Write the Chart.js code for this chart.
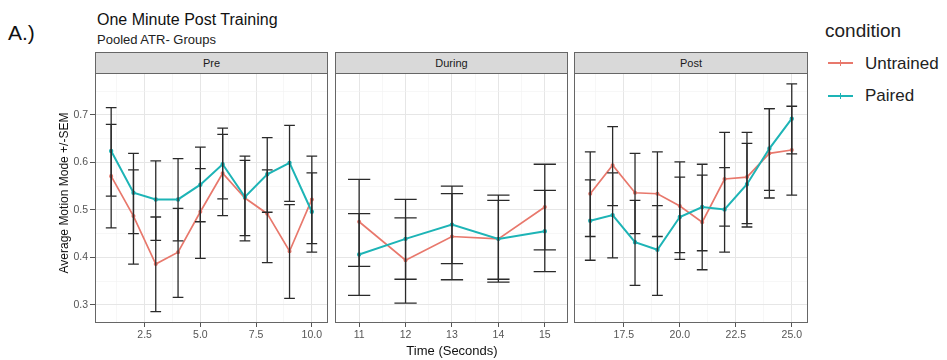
<!DOCTYPE html>
<html>
<head>
<meta charset="utf-8">
<script src="https://cdn.jsdelivr.net/npm/chart.js@4.4.0/dist/chart.umd.min.js"></script>
<style>
  body { margin: 0; width: 947px; height: 360px; background: #fff; position: relative; overflow: hidden;
         font-family: "Liberation Sans", Arial, sans-serif; }
  .txt { position: absolute; white-space: nowrap; line-height: 1; }
  .strip { position: absolute; top: 52px; height: 22px; background: #d9d9d9; border: 1px solid #666;
           box-sizing: border-box; text-align: center; font-size: 11px; line-height: 20px; color: #1a1a1a; }
  canvas { position: absolute; }
  .key { position: absolute; height: 2px; width: 25px; }
  .key i { position: absolute; left: 12px; top: -2px; width: 1px; height: 6px; background: inherit; }
</style>
</head>
<body>

<div class="txt" style="left:8px; top:22px; font-size:21px; color:#111;">A.)</div>
<div class="txt" style="left:97px; top:12px; font-size:16px; color:#111;">One Minute Post Training</div>
<div class="txt" style="left:97px; top:33px; font-size:13px; color:#222;">Pooled ATR- Groups</div>

<div class="strip" style="left:95px; width:233px;">Pre</div>
<div class="strip" style="left:335px; width:233px;">During</div>
<div class="strip" style="left:574px; width:234px;">Post</div>

<canvas id="pre" width="330" height="279" style="left:0; top:71px;"></canvas>
<canvas id="during" width="237" height="279" style="left:333px; top:71px;"></canvas>
<canvas id="post" width="238" height="279" style="left:572px; top:71px;"></canvas>

<div class="txt" style="left:352px; width:200px; text-align:center; top:344px; font-size:13px; color:#111;">Time (Seconds)</div>
<div class="txt" style="left:-36px; width:200px; text-align:center; top:187px; font-size:12px; color:#111; transform:rotate(-90deg);">Average Motion Mode +/-SEM</div>

<div class="txt" style="left:825px; top:21px; font-size:19px; color:#222;">condition</div>
<div class="key" style="left:828px; top:62px; background:#e8786c;"><i></i></div>
<div class="txt" style="left:865px; top:55px; font-size:17px; color:#222;">Untrained</div>
<div class="key" style="left:828px; top:95px; background:#1db4b6;"><i></i></div>
<div class="txt" style="left:865px; top:87px; font-size:17px; color:#222;">Paired</div>

<script>
// values (seconds 1-25)
const time = [1, 2, 3, 4, 5, 6, 7, 8, 9, 10, 11, 12, 13, 14, 15, 16, 17, 18, 19, 20, 21, 22, 23, 24, 25];

const untrainedMean = [0.571, 0.487, 0.386, 0.411, 0.496, 0.577, 0.525, 0.492, 0.413, 0.522,
  0.475, 0.394, 0.444, 0.439, 0.506,
  0.534, 0.594, 0.536, 0.534, 0.508, 0.474, 0.565, 0.569, 0.619, 0.626];
const untrainedHi = [0.680, 0.584, 0.485, 0.503, 0.587, 0.659, 0.604, 0.584, 0.511, 0.613,
  0.564, 0.483, 0.534, 0.520, 0.596,
  0.622, 0.675, 0.619, 0.622, 0.601, 0.573, 0.663, 0.663, 0.713, 0.718];
const untrainedLo = [0.462, 0.386, 0.286, 0.316, 0.398, 0.488, 0.435, 0.389, 0.314, 0.429,
  0.381, 0.304, 0.353, 0.354, 0.416,
  0.444, 0.509, 0.450, 0.444, 0.410, 0.374, 0.466, 0.471, 0.525, 0.531];

const pairedMean = [0.624, 0.536, 0.522, 0.522, 0.553, 0.596, 0.527, 0.575, 0.599, 0.496,
  0.406, 0.439, 0.469, 0.439, 0.455,
  0.477, 0.489, 0.432, 0.416, 0.485, 0.506, 0.501, 0.554, 0.629, 0.692];
const pairedHi = [0.715, 0.619, 0.603, 0.608, 0.632, 0.672, 0.613, 0.652, 0.678, 0.578,
  0.492, 0.522, 0.550, 0.531, 0.541,
  0.563, 0.578, 0.520, 0.509, 0.569, 0.596, 0.589, 0.640, 0.713, 0.765];
const pairedLo = [0.529, 0.450, 0.436, 0.435, 0.475, 0.523, 0.446, 0.495, 0.518, 0.411,
  0.320, 0.354, 0.387, 0.348, 0.370,
  0.394, 0.399, 0.341, 0.320, 0.396, 0.414, 0.411, 0.464, 0.541, 0.618];

// facets
const phaseNames = ["Pre", "During", "Post"];
const phaseStart = [1, 11, 16];
const phaseEnd = [10, 15, 25];

// tick labels
const xTicks = [[2.5, 5, 7.5, 10], [11, 12, 13, 14, 15], [17.5, 20, 22.5, 25]];
const xTickLabels = [["2.5", "5.0", "7.5", "10.0"], ["11", "12", "13", "14", "15"], ["17.5", "20.0", "22.5", "25.0"]];
const yTicks = [0.3, 0.4, 0.5, 0.6, 0.7];
const yTickLabels = ["0.3", "0.4", "0.5", "0.6", "0.7"];

const colUntrained = "#e8786c";
const colPaired = "#1db4b6";
const xLimits = [[0.275, 10.725], [10.48, 15.5], [15.275, 25.725]];
const yLimits = [0.262, 0.788];
const capHalf = 0.24;

function minorOf(major, lo, hi) {
  const step = major[1] - major[0];
  return [major[0] - step / 2].concat(major.map((v) => v + step / 2)).filter((v) => v > lo && v < hi);
}
function isIn(v, arr) {
  return arr.findIndex((m) => Math.abs(m - v) < 1e-6);
}

// black error bars drawn with the chart's scales
const errorBars = {
  id: "errorBars",
  afterDatasetsDraw(chart, args, opts) {
    const { ctx, chartArea: a, scales: { x, y } } = chart;
    ctx.save();
    ctx.beginPath();
    ctx.rect(a.left, a.top, a.right - a.left, a.bottom - a.top);
    ctx.clip();
    ctx.strokeStyle = "#2a2a2a";
    ctx.lineWidth = 1.3;
    opts.bars.forEach((b) => {
      const px = x.getPixelForValue(b.x);
      const l = x.getPixelForValue(b.x - capHalf);
      const r = x.getPixelForValue(b.x + capHalf);
      const t = y.getPixelForValue(b.hi);
      const bt = y.getPixelForValue(b.lo);
      ctx.beginPath();
      ctx.moveTo(px, t); ctx.lineTo(px, bt);
      ctx.moveTo(l, t); ctx.lineTo(r, t);
      ctx.moveTo(l, bt); ctx.lineTo(r, bt);
      ctx.stroke();
    });
    ctx.restore();
  },
};

// panel frame
const panelBorder = {
  id: "panelBorder",
  afterDraw(chart) {
    const { ctx, chartArea: a } = chart;
    ctx.save();
    ctx.strokeStyle = "#666";
    ctx.lineWidth = 1;
    ctx.strokeRect(Math.round(a.left) + 0.5, Math.round(a.top) + 0.5,
      Math.round(a.right - a.left) - 1, Math.round(a.bottom - a.top) - 1);
    ctx.restore();
  },
};

function makePanel(id, p, yWidth) {
  const idx = time.map((t, i) => i).filter((i) => time[i] >= phaseStart[p] && time[i] <= phaseEnd[p]);
  const pts = (arr) => idx.map((i) => ({ x: time[i], y: arr[i] }));
  const bars = [];
  idx.forEach((i) => {
    bars.push({ x: time[i], lo: untrainedLo[i], hi: untrainedHi[i] });
    bars.push({ x: time[i], lo: pairedLo[i], hi: pairedHi[i] });
  });

  const xMajor = xTicks[p];
  const xAll = xMajor.concat(minorOf(xMajor, xLimits[p][0], xLimits[p][1])).sort((a, b) => a - b);
  const yAll = yTicks.concat(minorOf(yTicks, yLimits[0], yLimits[1])).sort((a, b) => a - b);
  const showY = yWidth > 10;

  return new Chart(document.getElementById(id), {
    type: "line",
    data: {
      datasets: [
        {
          label: "Untrained", data: pts(untrainedMean), borderColor: colUntrained, backgroundColor: colUntrained,
          borderWidth: 1.7, pointRadius: 1.2, tension: 0, order: 1,
        },
        {
          label: "Paired", data: pts(pairedMean), borderColor: colPaired, backgroundColor: colPaired,
          borderWidth: 2, pointRadius: 1.2, tension: 0, order: 0,
        },
      ],
    },
    options: {
      responsive: false,
      animation: false,
      layout: { autoPadding: false, padding: { top: 2, right: 2, left: 0, bottom: 0 } },
      plugins: { legend: { display: false }, tooltip: { enabled: false }, errorBars: { bars: bars } },
      scales: {
        x: {
          type: "linear", min: xLimits[p][0], max: xLimits[p][1],
          afterBuildTicks: (s) => { s.ticks = xAll.map((v) => ({ value: v })); },
          afterFit: (s) => { s.height = 27; s.paddingLeft = 0; s.paddingRight = 0; },
          border: { display: false },
          grid: {
            color: (c) => (isIn(c.tick.value, xMajor) >= 0 ? "#e6e6e6" : "#f1f1f1"),
            lineWidth: (c) => (isIn(c.tick.value, xMajor) >= 0 ? 1 : 0.6),
            drawTicks: true, tickLength: 4,
            tickColor: (c) => (isIn(c.tick.value, xMajor) >= 0 ? "#555" : "rgba(0,0,0,0)"),
            tickWidth: 1,
          },
          ticks: {
            autoSkip: false, maxRotation: 0, padding: 2, color: "#555",
            font: { family: "Liberation Sans", size: 10.5 },
            callback: (v) => { const k = isIn(v, xMajor); return k >= 0 ? xTickLabels[p][k] : ""; },
          },
        },
        y: {
          type: "linear", min: yLimits[0], max: yLimits[1],
          afterBuildTicks: (s) => { s.ticks = yAll.map((v) => ({ value: v })); },
          afterFit: (s) => { s.width = yWidth; s.paddingTop = 0; s.paddingBottom = 0; },
          border: { display: false },
          grid: {
            color: (c) => (isIn(c.tick.value, yTicks) >= 0 ? "#e6e6e6" : "#f1f1f1"),
            lineWidth: (c) => (isIn(c.tick.value, yTicks) >= 0 ? 1 : 0.6),
            drawTicks: showY, tickLength: 5,
            tickColor: (c) => (isIn(c.tick.value, yTicks) >= 0 ? "#555" : "rgba(0,0,0,0)"),
            tickWidth: 1,
          },
          ticks: {
            display: showY, padding: 2, color: "#555",
            font: { family: "Liberation Sans", size: 10.5 },
            callback: (v) => { const k = isIn(v, yTicks); return k >= 0 ? yTickLabels[k] : ""; },
          },
        },
      },
    },
    plugins: [errorBars, panelBorder],
  });
}

makePanel("pre", 0, 95);
makePanel("during", 1, 2);
makePanel("post", 2, 2);
</script>
</body>
</html>
